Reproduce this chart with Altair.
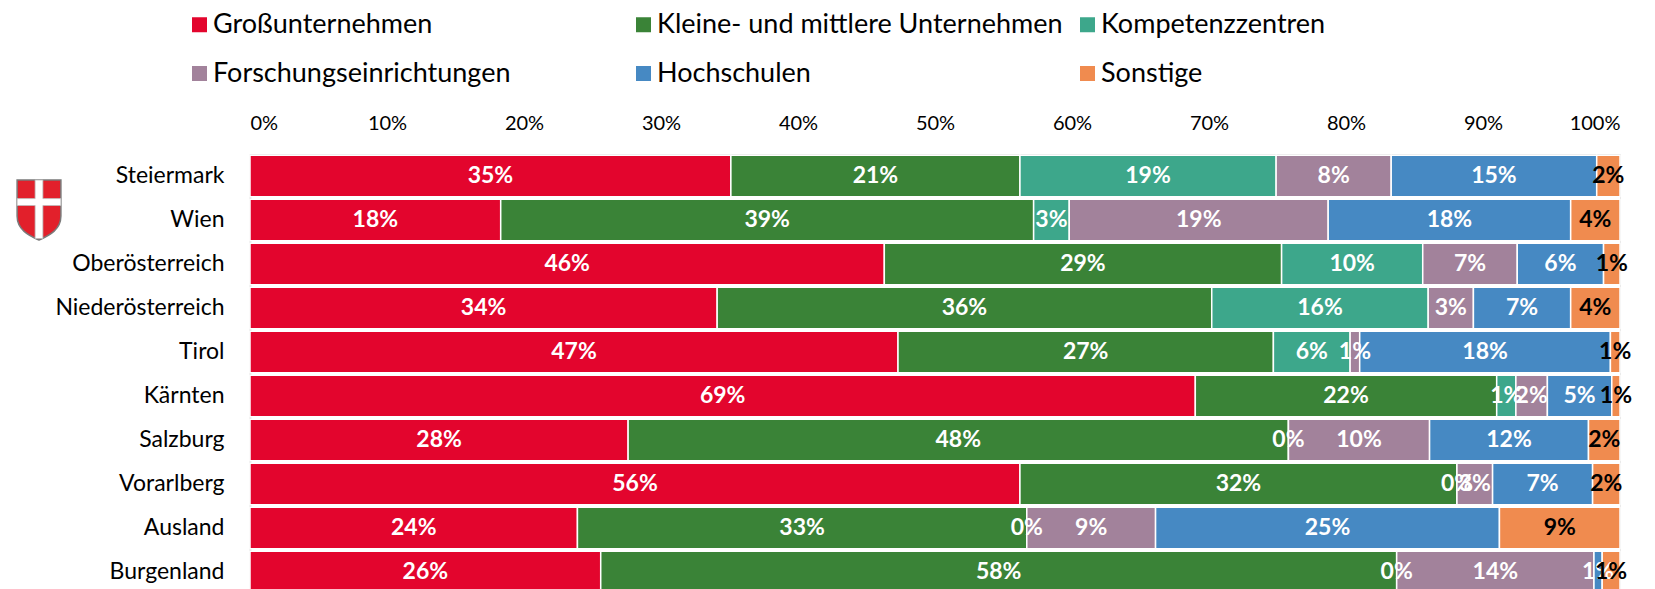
import altair as alt
import pandas as pd

regions = ["Steiermark", "Wien", "Oberösterreich", "Niederösterreich", "Tirol",
           "Kärnten", "Salzburg", "Vorarlberg", "Ausland", "Burgenland"]
categories = ["Großunternehmen", "Kleine- und mittlere Unternehmen", "Kompetenzzentren",
              "Forschungseinrichtungen", "Hochschulen", "Sonstige"]
colors = ["#E3052D", "#3A8337", "#3DA78B", "#A2829B", "#4689C3", "#F08B4F"]

# shares in percent, per region (same order as regions)
gross = [35.1, 18.3, 46.3, 34.1, 47.3, 69.0, 27.6, 56.2, 23.9, 25.6]
kmu = [21.1, 38.9, 29.0, 36.1, 27.4, 22.0, 48.2, 31.9, 32.8, 58.1]
kompetenz = [18.7, 2.6, 10.3, 15.8, 5.6, 1.4, 0.0, 0.0, 0.0, 0.0]
forschung = [8.4, 18.9, 6.9, 3.3, 0.7, 2.3, 10.3, 2.6, 9.4, 14.4]
hochschulen = [15.0, 17.7, 6.3, 7.1, 18.3, 4.7, 11.6, 7.3, 25.1, 0.6]
sonstige = [1.7, 3.6, 1.2, 3.6, 0.7, 0.6, 2.3, 2.0, 8.8, 1.3]
tick_values = [0, 0.1, 0.2, 0.3, 0.4, 0.5, 0.6, 0.7, 0.8, 0.9, 1.0]

series = [gross, kmu, kompetenz, forschung, hochschulen, sonstige]
rows = []
for i, r in enumerate(regions):
    for j, c in enumerate(categories):
        rows.append({"region": r, "cat": c, "order": j, "pct": series[j][i]})
df = pd.DataFrame(rows)

FONT = "Lato"

base = (
    alt.Chart(df)
    .transform_calculate(frac="datum.pct / 100")
    .transform_stack(stack="frac", groupby=["region"], as_=["x0", "x1"],
                     sort=[alt.SortField("order", order="ascending")])
    .transform_calculate(mid="(datum.x0 + datum.x1) / 2")
)

y_enc = alt.Y(
    "region:N", sort=regions,
    scale=alt.Scale(paddingInner=0.06, paddingOuter=0.03, range=[0, 440]),
    axis=alt.Axis(title=None, ticks=False, labelPadding=26, labelFontSize=23,
                  labelFont=FONT, labelColor="#000000", domainColor="#D9D9D9",
                  domainWidth=2),
)
x_scale = alt.Scale(domain=[0, 1], nice=False)
x_axis = alt.Axis(orient="top", format=".0%", values=tick_values, ticks=False,
                  domain=False, grid=False, labelPadding=21, labelFontSize=20,
                  labelFont=FONT, labelColor="#000000", title=None)

bars = base.mark_bar(stroke="white", strokeWidth=1.5).encode(
    x=alt.X("x0:Q", scale=x_scale, axis=x_axis),
    x2="x1:Q",
    y=y_enc,
    color=alt.Color(
        "cat:N",
        scale=alt.Scale(domain=categories, range=colors),
        legend=alt.Legend(
            title=None, orient="none", legendX=-64, legendY=-143,
            direction="horizontal", columns=3, gridAlign="all",
            symbolType="square", symbolSize=225, symbolStrokeWidth=0,
            labelFontSize=27, labelFont=FONT, labelColor="#000000",
            labelOffset=0, columnPadding=11, rowPadding=21, labelLimit=800,
        ),
    ),
)

labels = base.mark_text(font=FONT, fontWeight="bold", fontSize=23,
                        baseline="middle", align="center").encode(
    x=alt.X("mid:Q", scale=x_scale, axis=x_axis),
    y=y_enc,
    text=alt.Text("frac:Q", format=".0%"),
    color=alt.condition("datum.cat == 'Sonstige'", alt.value("#000000"),
                        alt.value("#FFFFFF")),
)

shield_path = ("M-0.73,-1 L0.73,-1 L0.73,0.2 C0.73,0.65 0.35,0.85 0,1 "
               "C-0.35,0.85 -0.73,0.65 -0.73,0.2 Z")
cross_path = ("M-0.13,-1 L0.13,-1 L0.13,-0.38 L0.73,-0.38 L0.73,-0.15 L0.13,-0.15 "
              "L0.13,0.95 L-0.13,0.95 L-0.13,-0.15 L-0.73,-0.15 L-0.73,-0.38 "
              "L-0.13,-0.38 Z")
icon_df = pd.DataFrame({"k": [0]})
shield = alt.Chart(icon_df).mark_point(
    shape=shield_path, size=3600, filled=True, fill="#E2202B",
    stroke="#7A7A7A", strokeWidth=1.5, opacity=1,
).encode(x=alt.value(-211), y=alt.value(56))
cross = alt.Chart(icon_df).mark_point(
    shape=cross_path, size=3600, filled=True, fill="#FFFFFF",
    stroke="#BBBBBB", strokeWidth=0.8, opacity=1,
).encode(x=alt.value(-211), y=alt.value(56))

chart = (
    alt.layer(bars, labels, shield, cross)
    .properties(
        width=1370, height=435,
        padding={"left": 242, "top": 146, "right": 25, "bottom": 0},
        autosize=alt.AutoSizeParams(type="none"),
    )
    .configure_view(stroke=None)
    .configure(font=FONT)
)

chart.save("out.html", embed_options={"renderer": "svg", "actions": False})
